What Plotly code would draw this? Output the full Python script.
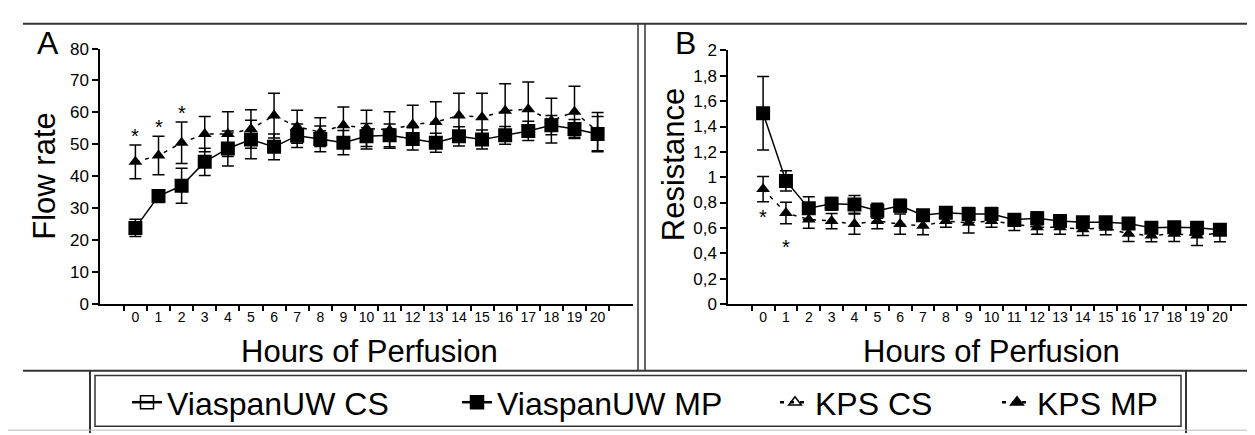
import plotly.graph_objects as go

W, H = 1255, 435

hours = [str(h) for h in range(21)]

# Panel A: Flow rate
flow_uw_mp = [23.8, 33.8, 37.0, 44.5, 48.7, 51.5, 49.2, 52.7, 51.7, 50.5, 52.5, 52.8, 51.7, 50.5, 52.5, 51.5, 52.8, 54.2, 56.0, 54.8, 53.2]
flow_uw_mp_err = [2.7, 2.0, 5.5, 4.3, 5.5, 6.0, 4.0, 3.7, 4.0, 3.8, 4.0, 3.6, 3.5, 3.0, 3.0, 3.0, 2.8, 3.0, 3.0, 3.0, 5.5]
flow_kps_mp = [44.5, 46.5, 50.5, 53.2, 53.2, 54.8, 59.0, 55.5, 53.8, 56.0, 55.0, 54.5, 56.2, 57.0, 59.0, 58.5, 60.5, 61.0, 57.4, 60.2, 54.0]
flow_kps_mp_err = [5.3, 6.0, 6.5, 5.5, 7.0, 6.0, 7.0, 5.2, 4.5, 5.7, 5.7, 5.7, 6.0, 6.3, 7.0, 7.5, 8.5, 8.5, 7.0, 8.0, 6.0]
flow_sig = [0, 1, 2]

# Panel B: Resistance
res_uw_mp = [1.504, 0.97, 0.755, 0.79, 0.785, 0.735, 0.775, 0.70, 0.72, 0.71, 0.71, 0.665, 0.675, 0.655, 0.645, 0.645, 0.635, 0.60, 0.605, 0.60, 0.585]
res_uw_mp_err = [0.29, 0.08, 0.09, 0.05, 0.07, 0.06, 0.05, 0.04, 0.04, 0.05, 0.05, 0.04, 0.05, 0.04, 0.04, 0.04, 0.04, 0.04, 0.04, 0.04, 0.04]
res_kps_mp = [0.906, 0.717, 0.667, 0.654, 0.63, 0.654, 0.63, 0.616, 0.654, 0.64, 0.654, 0.63, 0.604, 0.604, 0.59, 0.60, 0.553, 0.54, 0.553, 0.54, 0.56]
res_kps_mp_err = [0.10, 0.085, 0.07, 0.06, 0.08, 0.06, 0.08, 0.07, 0.05, 0.08, 0.05, 0.05, 0.055, 0.055, 0.05, 0.055, 0.06, 0.05, 0.06, 0.08, 0.07]
res_sig = [0, 1]

names = ["ViaspanUW CS", "ViaspanUW MP", "KPS CS", "KPS MP"]

FONT = "Liberation Sans, Arial, sans-serif"


def px(x):
    return x / W


def py(y):
    return 1 - y / H


fig = go.Figure()

err_style = dict(type="data", thickness=1.5, width=6, color="black")
dash_style = "4px,6px"

for xa, ya, kps, kps_e, uw, uw_e in [
    ("x", "y", flow_kps_mp, flow_kps_mp_err, flow_uw_mp, flow_uw_mp_err),
    ("x2", "y2", res_kps_mp, res_kps_mp_err, res_uw_mp, res_uw_mp_err),
]:
    fig.add_trace(go.Scatter(
        x=hours, y=kps, xaxis=xa, yaxis=ya, mode="lines+markers",
        line=dict(color="black", width=1.5, dash=dash_style),
        marker=dict(symbol="triangle-up", size=12, color="black"),
        error_y=dict(array=kps_e, **err_style), showlegend=False))
    fig.add_trace(go.Scatter(
        x=hours, y=uw, xaxis=xa, yaxis=ya, mode="lines+markers",
        line=dict(color="black", width=1.5),
        marker=dict(symbol="square", size=14, color="black"),
        error_y=dict(array=uw_e, **err_style), showlegend=False))

# legend-only entries (each in its own legend box for placement)
legend_specs = [
    (names[0], "square-open", 13, None, "legend"),
    (names[1], "square", 13, None, "legend2"),
    (names[2], "triangle-up-open", 11, "4px,6px", "legend3"),
    (names[3], "triangle-up", 11, "4px,6px", "legend4"),
]
for nm, sym, sz, dash, lg in legend_specs:
    fig.add_trace(go.Scatter(
        x=[None], y=[None], name=nm, mode="lines+markers", legend=lg,
        line=dict(color="black", width=2.5, dash=dash),
        marker=dict(symbol=sym, size=sz, color="black", line=dict(color="black", width=1.5)),
        showlegend=True))

# significance asterisks
annotations = []
for i in flow_sig:
    annotations.append(dict(x=i, y=flow_kps_mp[i] + flow_kps_mp_err[i], xref="x", yref="y",
                            text="*", showarrow=False, xanchor="center", yanchor="bottom", yshift=-4,
                            font=dict(size=20, color="black", family=FONT)))
for i in res_sig:
    annotations.append(dict(x=i, y=res_kps_mp[i] - res_kps_mp_err[i], xref="x2", yref="y2",
                            text="*", showarrow=False, xanchor="center", yanchor="top", yshift=-2 - 8 * i,
                            font=dict(size=20, color="black", family=FONT)))


def label(x, y, text, angle=0, size=31):
    return dict(x=px(x), y=py(y), xref="paper", yref="paper", text=text, textangle=angle,
                showarrow=False, xanchor="center", yanchor="middle",
                font=dict(size=size, color="black", family=FONT))


annotations += [
    label(40, 27, "A", size=32),
    label(677, 27, "B", size=32),
    label(37, 167, "Flow rate", -90),
    label(665, 155, "Resistance", -90),
    label(361, 350, "Hours of Perfusion"),
    label(983, 350, "Hours of Perfusion"),
]

line_c = "#333333"
shapes = []


def hline(x0, x1, y, w=2, c=line_c):
    shapes.append(dict(type="line", xref="paper", yref="paper", x0=px(x0), x1=px(x1),
                       y0=py(y), y1=py(y), line=dict(color=c, width=w)))


def vline(x, y0, y1, w=2, c=line_c):
    shapes.append(dict(type="line", xref="paper", yref="paper", x0=px(x), x1=px(x),
                       y0=py(y0), y1=py(y1), line=dict(color=c, width=w)))


hline(15, W, 7)
vline(630, 7, 370, 1.5)
vline(637, 7, 370, 1.5)
hline(15, W, 370)
vline(82, 370, H, 2)
vline(1178, 370, H, 2)
shapes.append(dict(type="rect", xref="paper", yref="paper", x0=px(87), x1=px(1173),
                   y0=py(428), y1=py(375), line=dict(color=line_c, width=1.5)))
hline(0, W, 432, 1, "#bbbbbb")

axis_common = dict(type="category", tickson="boundaries", showline=True, linecolor="black",
                   linewidth=1.5, ticks="outside", ticklen=5, tickcolor="black", tickwidth=1.5,
                   showgrid=False, zeroline=False, mirror=False, tickangle=0,
                   tickfont=dict(size=14, color="black", family=FONT))
yaxis_common = dict(showline=True, linecolor="black", linewidth=1.5, ticks="outside",
                    ticklen=6, tickcolor="black", tickwidth=1.5, showgrid=False, zeroline=False,
                    tickfont=dict(size=17, color="black", family=FONT))

leg_common = dict(orientation="h", bgcolor="rgba(0,0,0,0)", borderwidth=0,
                  font=dict(size=32, color="black", family=FONT),
                  yanchor="middle", xanchor="left", itemwidth=30, tracegroupgap=0)

fig.update_layout(
    width=W, height=H,
    margin=dict(l=0, r=0, t=0, b=0),
    paper_bgcolor="white", plot_bgcolor="white",
    separators=",.",
    xaxis=dict(domain=[px(92), px(625)], anchor="y", **axis_common),
    yaxis=dict(domain=[py(300), py(33)], anchor="x", range=[0, 80], dtick=10, **yaxis_common),
    xaxis2=dict(domain=[px(720), px(1247)], anchor="y2", **axis_common),
    yaxis2=dict(domain=[py(300), py(35)], anchor="x2", range=[0, 2], dtick=0.2, **yaxis_common),
    legend=dict(x=px(119), y=py(403), **leg_common),
    legend2=dict(x=px(449), y=py(403), **leg_common),
    legend3=dict(x=px(767), y=py(403), **leg_common),
    legend4=dict(x=px(989), y=py(403), **leg_common),
    annotations=annotations,
    shapes=shapes,
    showlegend=True,
)

fig.write_html("out.html")
